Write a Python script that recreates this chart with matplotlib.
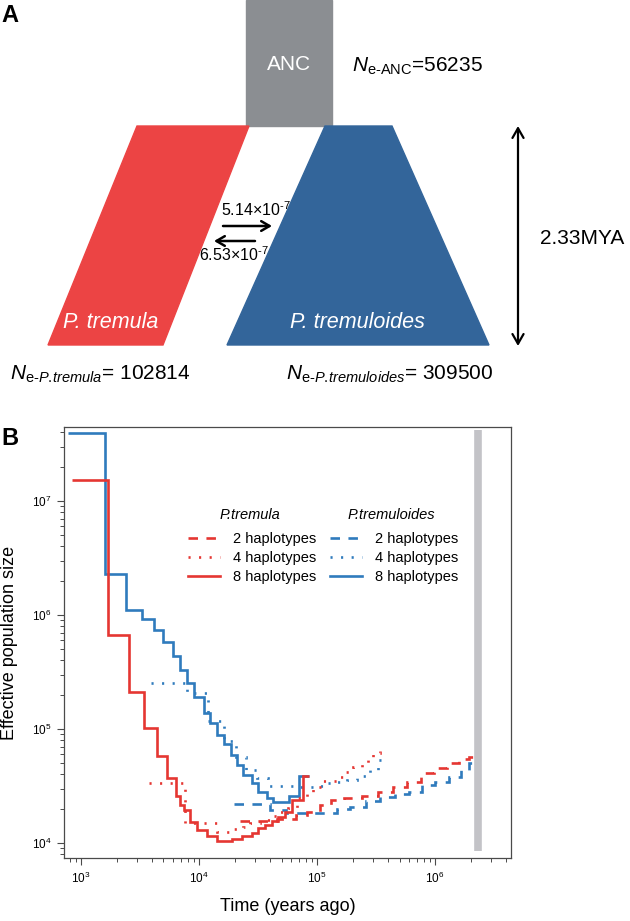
import matplotlib

matplotlib.use("Agg")
import matplotlib.pyplot as plt
from matplotlib.lines import Line2D
from matplotlib.patches import Polygon, Rectangle

plt.rcParams["font.family"] = ["Liberation Sans", "DejaVu Sans"]
plt.rcParams["mathtext.fontset"] = "custom"
plt.rcParams["mathtext.rm"] = "Liberation Sans"
plt.rcParams["mathtext.it"] = "Liberation Sans:italic"
plt.rcParams["mathtext.bf"] = "Liberation Sans:bold"

# ---- panel B data ----
TREMULA_8_EDGES = [840, 1.69e3, 2.56e3, 3.44e3, 4.43e3, 5.39e3, 6.38e3, 6.9e3, 7.46e3, 8.39e3, 9.57e3,
                   1.16e4, 1.41e4, 1.89e4, 2.30e4, 2.80e4, 3.18e4, 3.63e4, 4.13e4, 4.70e4, 5.36e4,
                   6.18e4, 7.57e4, 8.6e4]
TREMULA_8_NE = [1.53e7, 6.68e5, 2.12e5, 1.03e5, 5.8e4, 3.7e4, 2.6e4, 2.15e4, 1.95e4, 1.54e4, 1.3e4,
                1.14e4, 1.05e4, 1.08e4, 1.14e4, 1.23e4, 1.35e4, 1.44e4, 1.57e4, 1.70e4, 1.88e4,
                2.38e4, 3.87e4]

TREMULA_4_EDGES = [3.77e3, 7.6e3, 1.41e4, 1.98e4, 2.37e4, 2.7e4, 3.29e4, 4.0e4, 4.86e4, 5.71e4, 6.73e4,
                   8.18e4, 9.3e4, 1.13e5, 1.47e5, 1.73e5, 2.03e5, 2.39e5, 2.72e5, 3.0e5, 3.42e5, 3.55e5]
TREMULA_4_NE = [3.34e4, 1.49e4, 1.26e4, 1.32e4, 1.39e4, 1.49e4, 1.59e4, 1.73e4, 1.86e4, 2.01e4,
                2.46e4, 2.73e4, 3.12e4, 3.5e4, 3.82e4, 4.22e4, 4.67e4, 5.0e4, 5.54e4, 6.2e4, 7.0e4]

TREMULA_2_EDGES = [2.22e4, 4.55e4, 6.6e4, 8.2e4, 1.05e5, 1.3e5, 1.7e5, 2.4e5, 3.3e5, 4.4e5, 5.8e5,
                   7.6e5, 9.8e5, 1.27e6, 1.6e6, 1.95e6, 2.25e6]
TREMULA_2_NE = [1.57e4, 1.62e4, 1.75e4, 1.88e4, 2.15e4, 2.38e4, 2.5e4, 2.6e4, 2.8e4, 3.12e4, 3.45e4,
                4.08e4, 4.52e4, 5.0e4, 5.41e4, 5.7e4]

TREMULOIDES_8_EDGES = [776, 1.6e3, 2.4e3, 3.29e3, 4.16e3, 4.95e3, 6.0e3, 6.9e3, 7.96e3, 9.12e3, 1.1e4,
                       1.24e4, 1.43e4, 1.63e4, 1.86e4, 2.09e4, 2.37e4, 2.80e4, 3.18e4, 3.75e4, 4.27e4,
                       5.82e4, 7.03e4, 8.6e4]
TREMULOIDES_8_NE = [3.97e7, 2.29e6, 1.1e6, 9.2e5, 7.4e5, 5.8e5, 4.4e5, 3.29e5, 2.51e5, 1.92e5, 1.39e5,
                    1.12e5, 8.85e4, 7.38e4, 5.9e4, 4.83e4, 3.95e4, 3.34e4, 2.79e4, 2.50e4, 2.30e4,
                    2.60e4, 3.87e4]

TREMULOIDES_4_EDGES = [3.9e3, 7.96e3, 1.2e4, 1.63e4, 2.06e4, 2.5e4, 3.08e4, 3.85e4, 7.18e4, 9.25e4,
                       1.17e5, 1.47e5, 1.79e5, 2.17e5, 2.47e5, 2.81e5, 3.3e5, 3.55e5]
TREMULOIDES_4_NE = [2.55e5, 2.08e5, 1.18e5, 7.85e4, 5.68e4, 4.37e4, 3.72e4, 3.16e4, 3.08e4, 3.16e4,
                    3.34e4, 3.45e4, 3.57e4, 3.75e4, 3.87e4, 4.37e4, 5.35e4]

TREMULOIDES_2_EDGES = [1.98e4, 4.0e4, 5.5e4, 1.47e5, 1.9e5, 2.6e5, 3.4e5, 4.6e5, 6.0e5, 7.8e5, 1.0e6,
                       1.3e6, 1.65e6, 1.95e6, 2.1e6]
TREMULOIDES_2_NE = [2.18e4, 1.95e4, 1.82e4, 1.98e4, 2.08e4, 2.35e4, 2.55e4, 2.69e4, 2.8e4, 3.22e4,
                    3.45e4, 3.82e4, 4.37e4, 5.0e4]

SPLIT_TIME = 2.33e6
SPLIT_BAR_RANGE = (8.5e3, 4.2e7)
HAPLOTYPE_LABELS = ["2 haplotypes", "4 haplotypes", "8 haplotypes"]

# ---- panel A values ----
NE_ANC = 56235
NE_TREMULA = 102814
NE_TREMULOIDES = 309500
MIG_TO_TREMULOIDES = "5.14"
MIG_TO_TREMULA = "6.53"
SPLIT_LABEL = "2.33MYA"

RED_A = "#ec4444"
BLUE_A = "#33659a"
GRAY_A = "#8b8e92"
RED_B = "#e53632"
BLUE_B = "#2f7bbd"
BAR_GRAY = "#c3c3c7"

DASHED = (0, (3.6, 3.2))
DOTTED = (0, (0.8, 3.2))
LW = 1.9


def draw_panel_a(fig):
    # schematic drawn in pixel space of the top part of the figure
    ax = fig.add_axes([0, 1 - 430 / 921, 1, 430 / 921])
    ax.set_xlim(0, 630)
    ax.set_ylim(430, 0)
    ax.axis("off")

    ax.add_patch(Rectangle((246, 0), 86, 126, color=GRAY_A, zorder=1))
    ax.text(289, 64, "ANC", color="white", fontsize=15, ha="center", va="center", zorder=2)

    ax.text(221, 210, f"{MIG_TO_TREMULOIDES}×10$^{{\\text{{-7}}}}$", fontsize=11.5, ha="left", va="center", zorder=1)
    ax.text(199, 255, f"{MIG_TO_TREMULA}×10$^{{\\text{{-7}}}}$", fontsize=11.5, ha="left", va="center", zorder=1)

    ax.add_patch(Polygon([(137, 126), (249, 126), (163, 345), (48, 345)], closed=True, color=RED_A, zorder=2))
    ax.add_patch(Polygon([(325, 126), (392, 126), (489, 345), (227, 345)], closed=True, color=BLUE_A, zorder=2))

    ax.text(63, 322, "P. tremula", color="white", fontsize=15.5, style="italic", ha="left", va="center", zorder=3)
    ax.text(290, 322, "P. tremuloides", color="white", fontsize=15.5, style="italic", ha="left", va="center", zorder=3)

    arrow = dict(arrowstyle="->,head_length=0.6,head_width=0.35", lw=1.8, color="black", shrinkA=0, shrinkB=0)
    ax.annotate("", xy=(272, 226), xytext=(223, 226), arrowprops=arrow, zorder=4)
    ax.annotate("", xy=(214, 241), xytext=(255, 241), arrowprops=arrow, zorder=4)
    double = dict(arrowstyle="<->,head_length=0.7,head_width=0.4", lw=1.6, color="black", shrinkA=0, shrinkB=0)
    ax.annotate("", xy=(518, 126), xytext=(518, 346), arrowprops=double)
    ax.text(540, 238, SPLIT_LABEL, fontsize=15, ha="left", va="center")

    ax.text(352, 66, f"$N_{{\\text{{e-ANC}}}}$={NE_ANC}", fontsize=15, ha="left", va="center")
    ax.text(10, 374, f"$N_{{\\text{{e-}}P.\\!tremula}}$= {NE_TREMULA}", fontsize=15, ha="left", va="center")
    ax.text(286, 374, f"$N_{{\\text{{e-}}P.\\!tremuloides}}$= {NE_TREMULOIDES}", fontsize=15, ha="left", va="center")


def draw_panel_b(fig):
    ax = fig.add_axes([64 / 630, (921 - 858) / 921, 446.7 / 630, 431 / 921])
    ax.set_xscale("log")
    ax.set_yscale("log")

    ax.vlines(SPLIT_TIME, *SPLIT_BAR_RANGE, color=BAR_GRAY, lw=5.5, zorder=1)

    curves = [
        (TREMULOIDES_2_EDGES, TREMULOIDES_2_NE, BLUE_B, DASHED),
        (TREMULOIDES_4_EDGES, TREMULOIDES_4_NE, BLUE_B, DOTTED),
        (TREMULOIDES_8_EDGES, TREMULOIDES_8_NE, BLUE_B, "-"),
        (TREMULA_2_EDGES, TREMULA_2_NE, RED_B, DASHED),
        (TREMULA_4_EDGES, TREMULA_4_NE, RED_B, DOTTED),
        (TREMULA_8_EDGES, TREMULA_8_NE, RED_B, "-"),
    ]
    for edges, values, color, ls in curves:
        ax.stairs(values, edges, baseline=None, color=color, lw=LW, linestyle=ls, zorder=2)

    ax.set_xlim(718, 4.37e6)
    ax.set_ylim(7.38e3, 4.46e7)

    for spine in ax.spines.values():
        spine.set_color("#4a4a4a")
        spine.set_linewidth(0.9)
    ax.tick_params(which="major", length=5, width=0.8, color="#4a4a4a", labelsize=8.5, pad=4)
    ax.tick_params(which="minor", length=3, width=0.7, color="#4a4a4a")

    ax.set_xlabel("Time (years ago)", fontsize=13)
    ax.set_ylabel("Effective population size", fontsize=13)
    ax.xaxis.set_label_coords(0.5, -0.092)
    ax.yaxis.set_label_coords(-0.102, 0.5)

    styles = [DASHED, DOTTED, "-"]
    groups = [("P.tremula", RED_B, 0.278, 0.416), ("P.tremuloides", BLUE_B, 0.595, 0.732)]
    for title, color, anchor, title_x in groups:
        ax.text(title_x, 0.796, title, transform=ax.transAxes, fontsize=10.5, style="italic",
                ha="center", va="center")
        handles = [Line2D([], [], color=color, lw=LW, linestyle=ls) for ls in styles]
        leg = matplotlib.legend.Legend(ax, handles, HAPLOTYPE_LABELS, loc="upper left",
                                       bbox_to_anchor=(anchor, 0.757), frameon=False, fontsize=10.5,
                                       handlelength=2.2, handletextpad=0.9, labelspacing=0.36,
                                       borderpad=0, borderaxespad=0)
        ax.add_artist(leg)


def main() -> None:
    fig = plt.figure(figsize=(6.3, 9.21), dpi=100)
    draw_panel_a(fig)
    draw_panel_b(fig)
    fig.text(1 / 630, 1 - 15 / 921, "A", fontsize=17, fontweight="bold", ha="left", va="center")
    fig.text(1 / 630, 1 - 438 / 921, "B", fontsize=17, fontweight="bold", ha="left", va="center")
    fig.savefig("out.png", dpi=100)
    plt.close(fig)


if __name__ == "__main__":
    main()
